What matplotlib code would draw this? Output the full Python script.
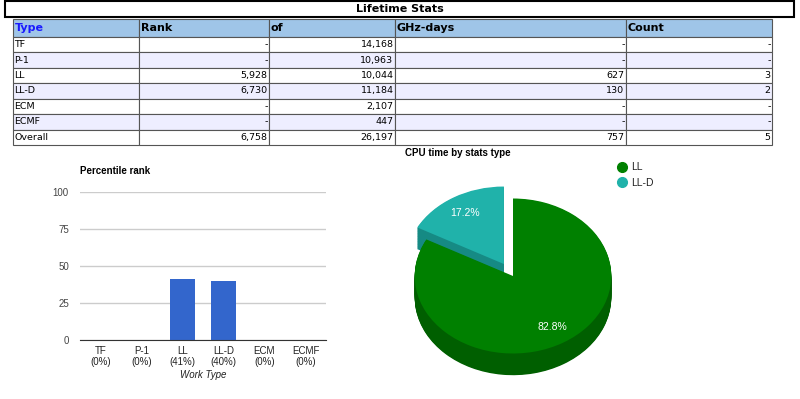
import numpy as np
import matplotlib
matplotlib.use('Agg')
import matplotlib.pyplot as plt
from matplotlib.patches import Rectangle
from matplotlib.lines import Line2D

plt.rcParams['font.family'] = ['Liberation Sans', 'DejaVu Sans']

# table data
headers = ['Type', 'Rank', 'of', 'GHz-days', 'Count']
types = ['TF', 'P-1', 'LL', 'LL-D', 'ECM', 'ECMF', 'Overall']
rank = [None, None, 5928, 6730, None, None, 6758]
of_total = [14168, 10963, 10044, 11184, 2107, 447, 26197]
ghz_days = [None, None, 627, 130, None, None, 757]
count = [None, None, 3, 2, None, None, 5]

# bar chart data
work_types = ['TF', 'P-1', 'LL', 'LL-D', 'ECM', 'ECMF']
percentile = [0, 0, 41.0, 39.8, 0, 0]
pct_labels = ['0%', '0%', '41%', '40%', '0%', '0%']

# pie data
pie_labels = ['LL', 'LL-D']
pie_vals = [627, 130]

W, H = 800, 399
fig = plt.figure(figsize=(W / 100, H / 100), dpi=100)


def box(l, t, w, h):
    return [l / W, (H - t - h) / H, w / W, h / H]


def fmt(v):
    if v is None:
        return '-'
    return f'{v:,}'


# ---- title box ----
fig.add_artist(Rectangle((5 / W, (H - 17) / H), 789 / W, 16 / H, transform=fig.transFigure,
                         facecolor='white', edgecolor='black', linewidth=1.5))
fig.text(400 / W, (H - 9.5) / H, 'Lifetime Stats', ha='center', va='center',
         fontsize=8, fontweight='bold', family='DejaVu Sans')

# ---- table ----
colw = [126, 130, 126, 231, 146]
tax = fig.add_axes(box(13, 19, sum(colw), 126))
tax.axis('off')
rows = [[types[i], fmt(rank[i]), fmt(of_total[i]), fmt(ghz_days[i]), fmt(count[i])]
        for i in range(len(types))]
tbl = tax.table(cellText=rows, colLabels=headers, colWidths=[w / sum(colw) for w in colw],
                cellLoc='right', colLoc='left', bbox=[0, 0, 1, 1])
tbl.auto_set_font_size(False)
tbl.set_fontsize(6.8)
body_h = tbl[1, 0].get_height()
for (r, c), cell in tbl.get_celld().items():
    cell.set_edgecolor('#555555')
    cell.set_linewidth(0.8)
    cell.PAD = 1.5 / colw[c]
    txt = cell.get_text()
    txt.set_family('DejaVu Sans')
    if r == 0:
        cell.set_height(body_h * 18 / 15.43)
        cell.set_facecolor('#9fc5e8')
        txt.set_fontweight('bold')
        txt.set_fontsize(8)
        txt.set_color('#1a1aff' if c == 0 else 'black')
    else:
        cell.set_facecolor('#eeeeff' if r % 2 == 0 else 'white')
        if c == 0:
            cell._loc = 'left'
            txt.set_ha('left')

# ---- bar chart ----
bax = fig.add_axes(box(80, 192, 246, 148))
x = np.arange(len(work_types))
bax.bar(x, percentile, width=0.61, color='#3366cc', zorder=3)
bax.set_xlim(-0.5, len(work_types) - 0.5)
bax.set_ylim(0, 100)
bax.set_yticks([0, 25, 50, 75, 100])
bax.grid(axis='y', color='#cccccc', linewidth=1)
bax.set_axisbelow(True)
for s in ['top', 'right', 'left']:
    bax.spines[s].set_visible(False)
bax.spines['bottom'].set_color('#333333')
bax.spines['bottom'].set_zorder(4)
bax.set_xticks(x, [f'{t}\n({p})' for t, p in zip(work_types, pct_labels)])
bax.tick_params(axis='y', length=0, labelsize=7, labelcolor='#444444', pad=8)
bax.tick_params(axis='x', length=0, labelsize=7, labelcolor='#222222', pad=4)
bax.set_xlabel('Work Type', fontsize=7, style='italic', color='#222222', labelpad=2)
fig.text(80 / W, (H - 171) / H, 'Percentile rank', ha='left', va='center',
         fontsize=7, fontweight='bold')

# ---- 3D-ish pie chart ----
pax = fig.add_axes(box(375.4, 159.75, 275.2, 232.5))
green, green_dark = '#008000', '#005f00'
teal, teal_dark = '#20b2aa', '#168a84'
explode = [0, 0.18]
depth = 0.28
n_layers = 30
kw = dict(startangle=90, counterclock=False, explode=explode,
          wedgeprops=dict(linewidth=0, antialiased=True))
for k in range(n_layers, 0, -1):
    pax.pie(pie_vals, colors=['none', teal_dark], center=(0, -depth * k / n_layers), **kw)
pax.pie(pie_vals, colors=['none', teal], **kw)
for k in range(n_layers, 0, -1):
    pax.pie(pie_vals, colors=[green_dark, 'none'], center=(0, -depth * k / n_layers), **kw)
wedges, _, autotexts = pax.pie(pie_vals, colors=[green, 'none'], autopct='%.1f%%',
                               pctdistance=0.77, textprops=dict(color='white', fontsize=7.5),
                               **kw)
pax.set_aspect('auto')
pax.set_xlim(-1.4, 1.4)
pax.set_ylim(-1.5, 1.5)
fig.text(405 / W, (H - 153) / H, 'CPU time by stats type', ha='left', va='center',
         fontsize=7, fontweight='bold')
handles = [Line2D([], [], marker='o', linestyle='', color=c, markersize=7)
           for c in [green, teal]]
fig.legend(handles, pie_labels, loc='upper left', bbox_to_anchor=(612 / W, (H - 158) / H),
           frameon=False, fontsize=7.5, handletextpad=0.2, labelspacing=0.55,
           handlelength=1.2, borderaxespad=0, labelcolor='#222222')

fig.savefig('out.png', dpi=100)
